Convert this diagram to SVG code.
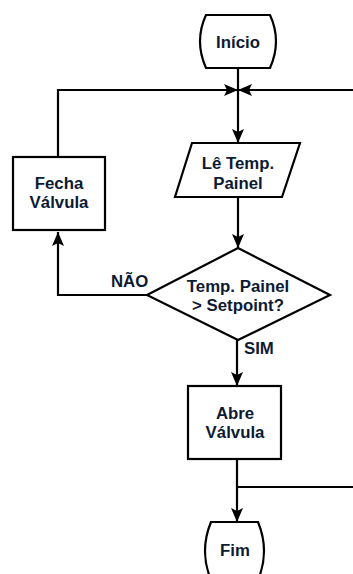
<svg xmlns="http://www.w3.org/2000/svg" width="353" height="574" viewBox="0 0 353 574">
<style>
.s{fill:#fff;stroke:#000;stroke-width:2.2}
.l{fill:none;stroke:#000;stroke-width:2.2}
.t{font-family:"Liberation Sans",Arial,sans-serif;font-weight:bold;font-size:16.8px;fill:#0d1a33;text-anchor:middle}
.lb{font-family:"Liberation Sans",Arial,sans-serif;font-weight:bold;font-size:16.8px;fill:#0d1a33}
</style>
<defs>
<marker id="a" viewBox="0 0 14 12" refX="14" refY="6" markerWidth="14" markerHeight="12" markerUnits="userSpaceOnUse" orient="auto">
<path d="M0,0 L14,6 L0,12 L3,6 Z" fill="#000"/>
</marker>
</defs>
<g id="connectors">
<line class="l" x1="238" y1="68" x2="238" y2="143" marker-end="url(#a)"/>
<polyline class="l" points="58,157 58,90 238,90" marker-end="url(#a)"/>
<line class="l" x1="353" y1="90" x2="238" y2="90" marker-end="url(#a)"/>
<line class="l" x1="238" y1="197" x2="238" y2="248" marker-end="url(#a)"/>
<polyline class="l" points="147,295 58,295 58,232" marker-end="url(#a)"/>
<line class="l" x1="237" y1="340" x2="237" y2="386" marker-end="url(#a)"/>
<line class="l" x1="237" y1="459" x2="237" y2="522" marker-end="url(#a)"/>
<line class="l" x1="237" y1="487" x2="353" y2="487"/>
<text class="lb" x="111" y="287">NÃO</text>
<text class="lb" x="244" y="354">SIM</text>
</g>
<g id="inicio">
<path class="s" d="M206,15 H270 Q282,41 270,68 H206 Q194,41 206,15 Z"/>
<text class="t" x="238" y="48">Início</text>
</g>
<g id="le">
<path class="s" d="M192,143 H300 L282,197 H175 Z"/>
<text class="t" x="238" y="169">Lê Temp.</text>
<text class="t" x="238" y="189">Painel</text>
</g>
<g id="decisao">
<path class="s" d="M238,248 L330,295 L238,340 L147,295 Z"/>
<text class="t" x="238" y="292">Temp. Painel</text>
<text class="t" x="238" y="311">&gt; Setpoint?</text>
</g>
<g id="fecha">
<rect class="s" x="13" y="157" width="92" height="73"/>
<text class="t" x="59" y="189">Fecha</text>
<text class="t" x="59" y="208">Válvula</text>
</g>
<g id="abre">
<rect class="s" x="188" y="386" width="93" height="73"/>
<text class="t" x="235" y="419">Abre</text>
<text class="t" x="235" y="438">Válvula</text>
</g>
<g id="fim">
<path class="s" d="M211,522 H258 Q270,551 258,580 H211 Q199,551 211,522 Z"/>
<text class="t" x="235" y="556">Fim</text>
</g>
</svg>
